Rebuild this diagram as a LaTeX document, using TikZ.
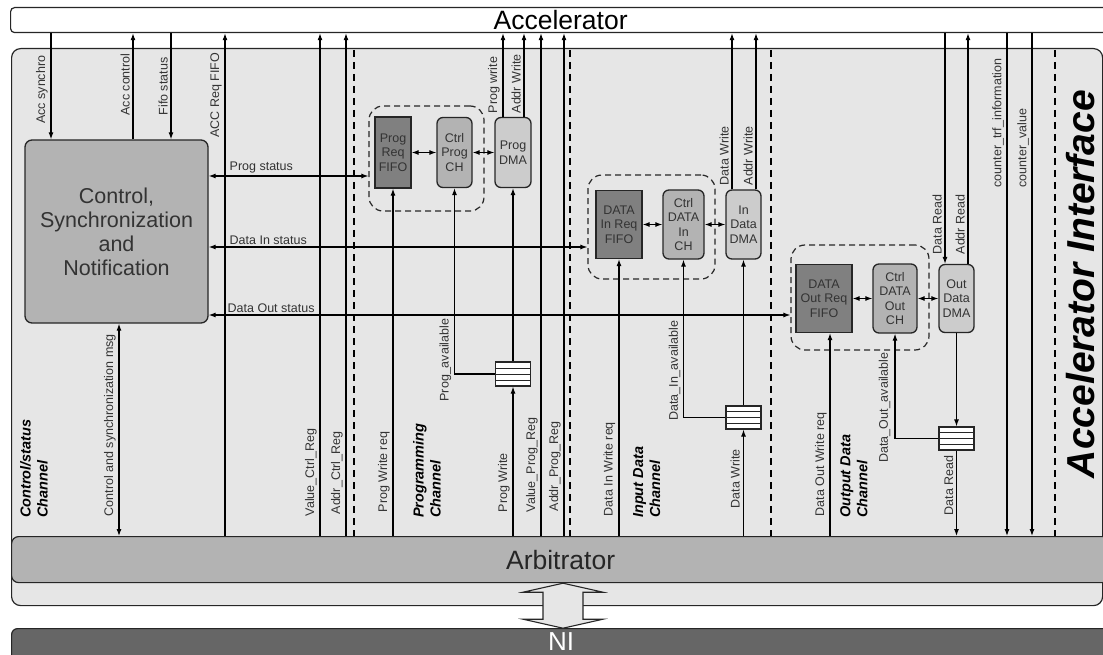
\documentclass[tikz,border=0pt]{standalone}
\usepackage{fontspec}
\setmainfont{Liberation Sans}
\usetikzlibrary{arrows.meta,calc}
\definecolor{ifc}{HTML}{E6E6E6}
\definecolor{arbf}{HTML}{B3B3B3}
\definecolor{fifof}{HTML}{808080}
\definecolor{chf}{HTML}{B3B3B3}
\definecolor{dmaf}{HTML}{CCCCCC}
\definecolor{nif}{HTML}{666666}
\definecolor{txt}{HTML}{333333}
\definecolor{bd}{HTML}{262626}
\begin{document}
\begin{tikzpicture}[x=1pt,y=-1pt,
  >={Latex[length=7pt,width=5pt]},
  conn/.style={line width=1.1pt, draw=black},
  arr/.style={conn, ->},
  darr/.style={conn, <->},
  lbl/.style={rotate=90, font=\fontsize{12.5}{14}\selectfont, text=txt, inner sep=1.5pt},
  hlbl/.style={font=\fontsize{12.5}{14}\selectfont, text=txt, inner sep=1.5pt},
  chan/.style={rotate=90, align=left, font=\fontsize{14.5}{17}\selectfont\bfseries\itshape, inner sep=0pt, anchor=north west},
  boxt/.style={align=center, font=\fontsize{12.5}{14.5}\selectfont, text=txt, inner sep=0pt, line width=1.3pt, draw=bd},
  fifob/.style={boxt, fill=fifof},
  chb/.style={boxt, fill=chf, rounded corners=6pt},
  dmab/.style={boxt, fill=dmaf, rounded corners=6pt},
  grp/.style={draw=bd, line width=1.2pt, dash pattern=on 6pt off 4pt, rounded corners=14pt, inner sep=0pt},
  queue/.style={draw=bd, line width=1.2pt, fill=white, minimum width=35pt, minimum height=24pt, inner sep=0pt,
    path picture={\foreach \f in {0.25,0.5,0.75}
      \draw[line width=1pt] ($(path picture bounding box.north west)!\f!(path picture bounding box.south west)$) --
            ($(path picture bounding box.north east)!\f!(path picture bounding box.south east)$);}},
  sepl/.style={line width=1.2pt, dash pattern=on 7pt off 5pt}
]
\useasboundingbox (0,0) rectangle (1103,655);

% main frames
\node[draw=bd, line width=1.2pt, fill=ifc, rounded corners=9pt, anchor=north west, minimum width=1091pt, minimum height=557pt, inner sep=0pt] (ai) at (11,48) {};
\node[draw=bd, line width=1.2pt, fill=white, rounded corners=4pt, anchor=north west, minimum width=1100pt, minimum height=25pt, inner sep=0pt, font=\fontsize{26.5}{30}\selectfont] (acc) at (10,7) {Accelerator};
\node[draw=bd, line width=1.2pt, fill=arbf, rounded corners=7pt, anchor=north west, minimum width=1098pt, minimum height=46pt, inner sep=0pt, text=black!85, font=\fontsize{26.5}{30}\selectfont] (arb) at (11,536) {Arbitrator};
\node[draw=bd, line width=1.2pt, fill=nif, rounded corners=6pt, anchor=north west, minimum width=1098pt, minimum height=40pt, inner sep=0pt] (ni) at (11,628) {};
\node[text=white, font=\fontsize{26}{30}\selectfont, inner sep=0pt] (nit) at (561,642) {NI};

% x positions
\coordinate (xas) at (51,0);
\coordinate (xacc) at (133,0);
\coordinate (xfs) at (171,0);
\coordinate (xcs) at (119,0);
\coordinate (xrf) at (225,0);
\coordinate (xvc) at (320,0);
\coordinate (xac) at (346,0);
\coordinate (xs1) at (354,0);
\coordinate (xpw) at (503,0);
\coordinate (xpa) at (524,0);
\coordinate (xvp) at (541,0);
\coordinate (xap) at (564,0);
\coordinate (xs2) at (570,0);
\coordinate (xdw) at (732,0);
\coordinate (xda) at (756,0);
\coordinate (xs3) at (771,0);
\coordinate (xor) at (830,0);
\coordinate (xdr) at (945,0);
\coordinate (xar) at (968,0);
\coordinate (xct) at (1007,0);
\coordinate (xcv) at (1032,0);
\coordinate (xs4) at (1055,0);
\coordinate (xdbl) at (563,0);
\coordinate (yps) at (0,176);
\coordinate (ydi) at (0,247);
\coordinate (ydo) at (0,315);

% separators
\foreach \s in {xs1,xs2,xs3,xs4}
  \draw[sepl] (ai.north -| \s) ++(0,2) -- (arb.north -| \s);

% boxes
\node[draw=bd, line width=1.3pt, fill=chf, rounded corners=7pt, minimum width=183pt, minimum height=183pt, inner sep=0pt, align=center, text=txt, font=\fontsize{21.5}{24}\selectfont] (ctrl) at (116.5,231.5) {Control,\\Synchronization\\and\\Notification};

\node[grp, minimum width=115pt, minimum height=105pt] (pgroup) at (426.5,158.5) {};
\node[fifob, minimum width=36pt, minimum height=71pt] (pfifo) at (393,152.5) {Prog\\Req\\FIFO};
\node[chb, minimum width=35pt, minimum height=70pt] (pctrl) at (454.5,152.5) {Ctrl\\Prog\\CH};
\node[dmab, minimum width=36pt, minimum height=70pt] (pdma) at (513,152.5) {Prog\\DMA};
\node[queue] (pq) at (513,374) {};

\node[grp, minimum width=127pt, minimum height=104pt] (igroup) at (651.5,227) {};
\node[fifob, minimum width=46pt, minimum height=68pt] (ififo) at (619,224.5) {DATA\\In Req\\FIFO};
\node[chb, minimum width=41pt, minimum height=69pt] (ictrl) at (683.5,224.5) {Ctrl\\DATA\\In\\CH};
\node[dmab, minimum width=35pt, minimum height=69pt] (idma) at (743.5,224.5) {In\\Data\\DMA};
\node[queue, minimum height=23pt] (iq) at (743.5,417.5) {};

\node[grp, minimum width=138pt, minimum height=105pt] (ogroup) at (860,297.5) {};
\node[fifob, minimum width=56pt, minimum height=68pt] (ofifo) at (824,298.5) {DATA\\Out Req\\FIFO};
\node[chb, minimum width=44pt, minimum height=69pt] (octrl) at (895,298.5) {Ctrl\\DATA\\Out\\CH};
\node[dmab, minimum width=35pt, minimum height=68pt] (odma) at (956.5,298.5) {Out\\Data\\DMA};
\node[queue, minimum height=23pt] (oq) at (956.5,438.5) {};

% control/status channel connectors
\draw[arr] (acc.south -| xas) -- (ctrl.north -| xas);
\draw[arr] (ctrl.north -| xacc) -- (acc.south -| xacc);
\draw[arr] (acc.south -| xfs) -- (ctrl.north -| xfs);
\draw[arr] (arb.north -| xrf) -- (acc.south -| xrf);
\draw[darr] (ctrl.south -| xcs) -- (arb.north -| xcs);
\draw[arr] (arb.north -| xvc) -- (acc.south -| xvc);
\draw[arr] (arb.north -| xac) -- (acc.south -| xac);
\draw[darr] (ctrl.east |- yps) -- (pgroup.west |- yps);
\draw[darr] (ctrl.east |- ydi) -- (igroup.west |- ydi);
\draw[darr] (ctrl.east |- ydo) -- (ogroup.west |- ydo);

% programming channel
\draw[darr] (pfifo.east) -- (pctrl.west);
\draw[darr] (pctrl.east) -- (pdma.west);
\draw[arr] (pdma.north -| xpw) -- (acc.south -| xpw);
\draw[arr] (pdma.north -| xpa) -- (acc.south -| xpa);
\draw[arr] (arb.north -| xvp) -- (acc.south -| xvp);
\draw[arr] (arb.north -| xap) -- (acc.south -| xap);
\draw[arr] (arb.north -| pfifo) -- (pfifo.south);
\draw[arr] (arb.north -| pq) -- (pq.south);
\draw[arr] (pq.north) -- (pdma.south);
\draw[arr] (pq.west) -| (pctrl.south);

% input data channel
\draw[darr] (ififo.east) -- (ictrl.west);
\draw[darr] (ictrl.east) -- (idma.west);
\draw[arr] (idma.north -| xdw) -- (acc.south -| xdw);
\draw[arr] (idma.north -| xda) -- (acc.south -| xda);
\draw[arr] (arb.north -| ififo) -- (ififo.south);
\draw[arr] (arb.north -| iq) -- (iq.south);
\draw[arr] (iq.north) -- (idma.south);
\draw[arr] (iq.west) -| (ictrl.south);

% output data channel
\draw[darr] (ofifo.east) -- (octrl.west);
\draw[darr] (octrl.east) -- (odma.west);
\draw[arr] (acc.south -| xdr) -- (odma.north -| xdr);
\draw[arr] (odma.north -| xar) -- (acc.south -| xar);
\draw[arr] (arb.north -| xor) -- (ofifo.south -| xor);
\draw[arr] (odma.south) -- (oq.north);
\draw[arr] (oq.south) -- (arb.north -| oq);
\draw[arr] (oq.west) -| (octrl.south);
\draw[arr] (acc.south -| xct) -- (arb.north -| xct);
\draw[arr] (acc.south -| xcv) -- (arb.north -| xcv);

% arbitrator <-> NI
\draw[line width=1.1pt, draw=bd, fill=ifc] (arb.south -| xdbl) -- ++(-40,9) -- ++(20,0) -- ++(0,27) -- ++(-20,0) -- ++(40,9) -- ++(40,-9) -- ++(-20,0) -- ++(0,-27) -- ++(20,0) -- cycle;

% labels near top
\node[lbl, anchor=south east] (l1) at (49.5,54) {Acc synchro};
\node[lbl, anchor=south east] (l2) at (131.5,52) {Acc control};
\node[lbl, anchor=south east] (l3) at (169.5,56) {Fifo status};
\node[lbl, anchor=south east] (l4) at (223.5,51) {ACC Req FIFO};
\node[lbl, anchor=south west] (l5) at (501.5,115) {Prog write};
\node[lbl, anchor=south west] (l6) at (522.5,115) {Addr Write};
\node[lbl, anchor=south west] (l7) at (730.5,187) {Data Write};
\node[lbl, anchor=south west] (l8) at (754.5,187) {Addr Write};
\node[lbl, anchor=south west] (l9) at (943.5,256) {Data Read};
\node[lbl, anchor=south west] (l10) at (966.5,256) {Addr Read};
\node[lbl, anchor=south west] (l11) at (1005.5,189) {counter\_trf\_information};
\node[lbl, anchor=south west] (l12) at (1030.5,189) {counter\_value};

% horizontal labels
\node[hlbl, anchor=south west] (h1) at (228,175) {Prog status};
\node[hlbl, anchor=south west] (h2) at (228,246) {Data In status};
\node[hlbl, anchor=south west] (h3) at (226,314) {Data Out status};

% middle labels
\node[lbl, anchor=south east] (m1) at (453,317) {Prog\_available};
\node[lbl, anchor=south east] (m2) at (682,319) {Data\_In\_available};
\node[lbl, anchor=south east] (m3) at (892,351) {Data\_Out\_available};

% bottom labels
\node[lbl, anchor=south west] (b1) at (117.5,518) {Control and synchronization msg};
\node[lbl, anchor=south west] (b2) at (318.5,518) {Value\_Ctrl\_Reg};
\node[lbl, anchor=south west] (b3) at (344.5,516) {Addr\_Ctrl\_Reg};
\node[lbl, anchor=south west] (b4) at (391.5,514) {Prog Write req};
\node[lbl, anchor=south west] (b5) at (511.5,514) {Prog Write};
\node[lbl, anchor=south west] (b6) at (539.5,514) {Value\_Prog\_Reg};
\node[lbl, anchor=south west] (b7) at (562.5,513) {Addr\_Prog\_Reg};
\node[lbl, anchor=south west] (b8) at (617,518) {Data In Write req};
\node[lbl, anchor=south west] (b9) at (741.5,510) {Data Write};
\node[lbl, anchor=south west] (b10) at (828.5,518) {Data Out Write req};
\node[lbl, anchor=south west] (b11) at (955,517) {Data Read};

% channel titles
\node[chan] (c1) at (20,518) {Control/status\\Channel};
\node[chan] (c2) at (413,518) {Programming\\Channel};
\node[chan] (c3) at (633,518) {Input Data\\Channel};
\node[chan] (c4) at (840,518) {Output Data\\Channel};

\node[rotate=90, anchor=base, inner sep=0pt, font=\fontsize{39}{44}\selectfont\bfseries\itshape] (ait) at (1094,284) {Accelerator Interface};
\end{tikzpicture}
\end{document}
